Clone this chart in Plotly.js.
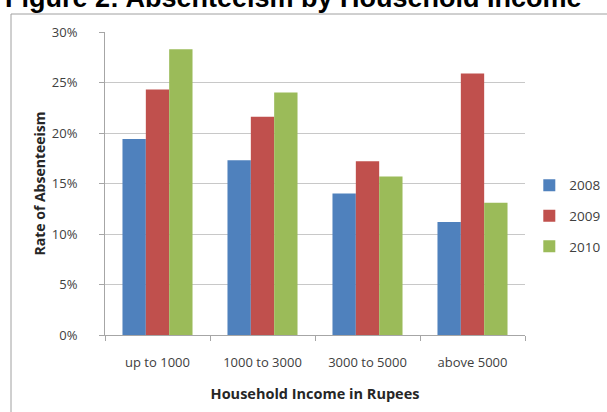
<!DOCTYPE html>
<html>
<head>
<meta charset="utf-8">
<script src="https://cdn.plot.ly/plotly-3.0.1.min.js"></script>
<style>html,body{margin:0;padding:0;background:#fff;}#chart{width:607px;height:412px;}</style>
</head>
<body>
<div id="chart"></div>
<script>
const categories = ["up to 1000", "1000 to 3000", "3000 to 5000", "above 5000"];
const years = ["2008", "2009", "2010"];
const values2008 = [0.194, 0.173, 0.140, 0.112];
const values2009 = [0.243, 0.216, 0.172, 0.259];
const values2010 = [0.283, 0.240, 0.157, 0.131];
const seriesValues = [values2008, values2009, values2010];
const colors = ["#4F81BD", "#C0504D", "#9BBB59"];
const yTickVals = [0, 0.05, 0.10, 0.15, 0.20, 0.25, 0.30];

const font = "'Open Sans', 'Liberation Sans', sans-serif";
const traces = years.map((y, i) => ({
  type: "bar",
  name: y,
  x: categories,
  y: seriesValues[i],
  marker: {color: colors[i], line: {width: 0}},
  legendgroup: "g" + i,
  hoverinfo: "skip"
}));

const gray = "#a6a6a6";
const layout = {
  width: 607, height: 412,
  margin: {l: 105, r: 82, t: 32, b: 77, pad: 0},
  paper_bgcolor: "#fff", plot_bgcolor: "#fff",
  barmode: "group", bargap: 0.333, bargroupgap: 0,
  font: {family: font, color: "#404040", size: 13},
  showlegend: true,
  legend: {xref: "container", yref: "container", x: 0.872, xanchor: "left", y: 0.476, yanchor: "middle",
    font: {family: font, size: 13.5, color: "#404040"},
    traceorder: "grouped", tracegroupgap: 10, itemwidth: 30, bgcolor: "rgba(0,0,0,0)"},
  xaxis: {type: "category", showgrid: false, showline: true, linecolor: gray, linewidth: 1,
    ticks: "outside", tickson: "boundaries", ticklen: 5, tickcolor: gray,
    ticklabelstandoff: 15, tickfont: {size: 13, color: "#404040"}, zeroline: false, automargin: false,
    title: {text: "<b>Household Income in Rupees</b>", standoff: 19, font: {size: 14.5, color: "#262626"}}},
  yaxis: {range: [0, 0.30], tickvals: yTickVals, tickformat: ".0%", showgrid: true, gridcolor: "#c8c8c8", gridwidth: 1,
    showline: true, linecolor: gray, linewidth: 1, ticks: "outside", ticklen: 5, tickcolor: gray,
    zeroline: false, tickfont: {size: 13, color: "#404040"}, ticklabelstandoff: 19, automargin: false,
    title: {text: "<b>Rate of Absenteeism</b>", standoff: 2, font: {size: 14, color: "#262626"}}},
  annotations: [{text: "<b>Figure 2: Absenteeism by Household Income</b>", xref: "paper", yref: "paper",
    x: -0.243, xanchor: "left", y: 1.056, yanchor: "bottom", showarrow: false,
    font: {family: "'Liberation Sans', Arial, sans-serif", size: 27, color: "#000"}}],
  shapes: [
    {type: "line", xref: "paper", yref: "paper", x0: -0.2238, x1: -0.2238, y0: 1.0594, y1: -0.3, line: {color: "#a0a0a0", width: 1}},
    {type: "line", xref: "paper", yref: "paper", x0: -0.2238, x1: 1.2, y0: 1.0594, y1: 1.0594, line: {color: "#a0a0a0", width: 1}}
  ]
};
Plotly.newPlot("chart", traces, layout, {displayModeBar: false, staticPlot: true});
</script>
</body>
</html>
